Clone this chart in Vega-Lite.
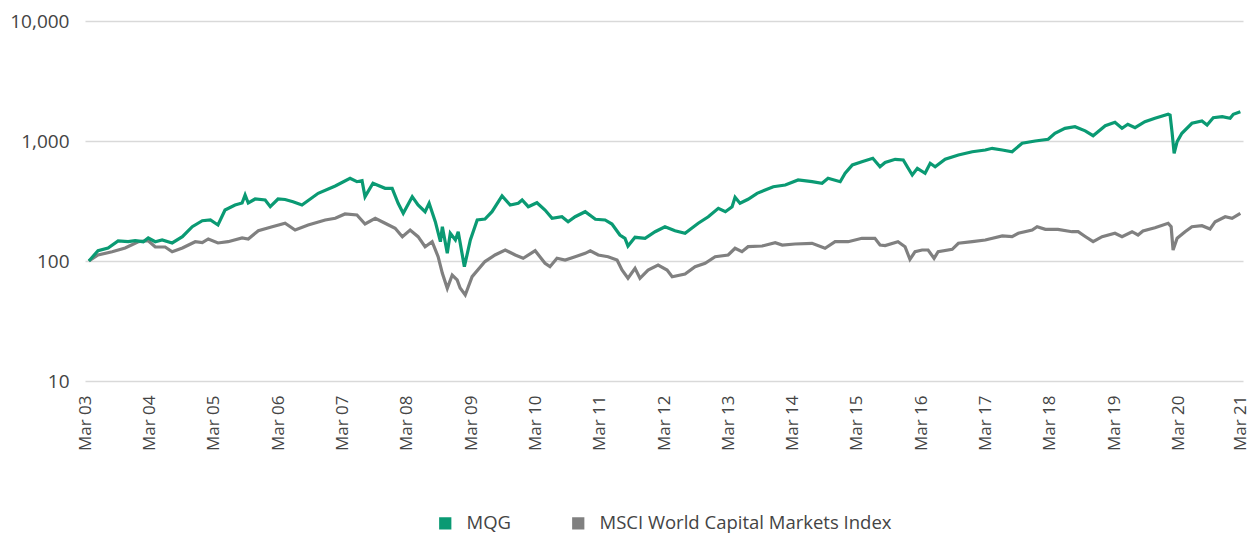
{
  "$schema": "https://vega.github.io/schema/vega-lite/v6.json",
  "width": 1158,
  "height": 360,
  "autosize": {"type": "none"},
  "padding": {"left": 85, "top": 21, "right": 7, "bottom": 154},
  "background": "white",
  "config": {
    "view": {"stroke": null},
    "font": "Open Sans"
  },
  "datasets": {
    "mqg": [
      {"date":"2003-03-23","value":100},{"date":"2003-05-14","value":121.8},{"date":"2003-07-10","value":128.3},{"date":"2003-09-05","value":146.8},{"date":"2003-11-01","value":144.8},{"date":"2003-12-11","value":147.6},{"date":"2004-01-26","value":144.8},{"date":"2004-02-23","value":155.5},{"date":"2004-04-03","value":144.8},{"date":"2004-05-12","value":149.6},{"date":"2004-07-08","value":141.3},{"date":"2004-09-04","value":159.4},{"date":"2004-10-30","value":193.1},{"date":"2004-12-26","value":216.7},{"date":"2005-02-10","value":219.7},{"date":"2005-03-25","value":199.5},{"date":"2005-05-04","value":266.1},{"date":"2005-06-30","value":292.9},{"date":"2005-08-09","value":304.3},{"date":"2005-08-26","value":354.8},{"date":"2005-09-13","value":304.3},{"date":"2005-10-22","value":328.6},{"date":"2005-12-18","value":322.4},{"date":"2006-01-16","value":283.5},{"date":"2006-03-01","value":328.6},{"date":"2006-04-10","value":325.5},{"date":"2006-05-25","value":312.0},{"date":"2006-07-15","value":292.9},{"date":"2006-10-15","value":366.6},{"date":"2007-01-20","value":421.7},{"date":"2007-04-14","value":489.0},{"date":"2007-05-23","value":458.0},{"date":"2007-06-21","value":467.0},{"date":"2007-07-08","value":343.5},{"date":"2007-08-22","value":444.1},{"date":"2007-10-30","value":403.5},{"date":"2007-12-09","value":403.5},{"date":"2008-01-12","value":302.6},{"date":"2008-02-10","value":249.8},{"date":"2008-04-01","value":343.5},{"date":"2008-05-04","value":292.9},{"date":"2008-06-13","value":257.5},{"date":"2008-07-06","value":302.6},{"date":"2008-08-10","value":212.6},{"date":"2008-09-08","value":144.8},{"date":"2008-09-19","value":193.1},{"date":"2008-10-17","value":115.9},{"date":"2008-11-03","value":170.2},{"date":"2008-12-02","value":149.6},{"date":"2008-12-18","value":175.4},{"date":"2009-01-22","value":89.7},{"date":"2009-02-25","value":149.6},{"date":"2009-04-05","value":219.7},{"date":"2009-05-19","value":223.9},{"date":"2009-06-28","value":257.5},{"date":"2009-08-24","value":348.1},{"date":"2009-10-09","value":292.9},{"date":"2009-11-24","value":302.6},{"date":"2009-12-16","value":322.4},{"date":"2010-01-20","value":283.5},{"date":"2010-03-10","value":306.0},{"date":"2010-04-25","value":266.1},{"date":"2010-06-04","value":226.9},{"date":"2010-07-30","value":233.9},{"date":"2010-09-03","value":212.6},{"date":"2010-10-13","value":233.9},{"date":"2010-12-09","value":257.5},{"date":"2011-02-05","value":222.6},{"date":"2011-04-01","value":219.7},{"date":"2011-05-10","value":203.4},{"date":"2011-06-24","value":164.7},{"date":"2011-07-23","value":154.6},{"date":"2011-08-09","value":133.4},{"date":"2011-09-18","value":157.6},{"date":"2011-11-14","value":154.6},{"date":"2012-01-10","value":175.4},{"date":"2012-03-06","value":193.1},{"date":"2012-05-02","value":178.9},{"date":"2012-06-28","value":170.2},{"date":"2012-09-11","value":206.2},{"date":"2012-11-07","value":233.9},{"date":"2013-01-03","value":274.9},{"date":"2013-02-12","value":257.5},{"date":"2013-03-22","value":283.5},{"date":"2013-04-08","value":339.5},{"date":"2013-05-06","value":302.6},{"date":"2013-06-21","value":326.8},{"date":"2013-08-11","value":366.6},{"date":"2013-09-26","value":390.6},{"date":"2013-11-11","value":416.1},{"date":"2014-01-18","value":429.9},{"date":"2014-04-01","value":473.2},{"date":"2014-06-19","value":458.0},{"date":"2014-08-15","value":444.1},{"date":"2014-09-18","value":489.0},{"date":"2014-11-26","value":458.0},{"date":"2014-12-24","value":538.0},{"date":"2015-02-03","value":631.0},{"date":"2015-03-29","value":672.2},{"date":"2015-05-30","value":717.5},{"date":"2015-07-10","value":610.7},{"date":"2015-08-08","value":662.0},{"date":"2015-10-04","value":704.0},{"date":"2015-11-19","value":694.6},{"date":"2015-12-17","value":592.3},{"date":"2016-01-09","value":520.9},{"date":"2016-02-07","value":592.3},{"date":"2016-03-22","value":538.0},{"date":"2016-04-20","value":652.0},{"date":"2016-05-18","value":610.7},{"date":"2016-07-14","value":704.0},{"date":"2016-09-27","value":764.3},{"date":"2016-12-15","value":814.2},{"date":"2017-02-27","value":841.4},{"date":"2017-04-07","value":869.3},{"date":"2017-06-03","value":841.4},{"date":"2017-07-29","value":814.2},{"date":"2017-09-24","value":956.9},{"date":"2017-12-07","value":1000},{"date":"2018-02-19","value":1033},{"date":"2018-03-29","value":1159},{"date":"2018-05-25","value":1276},{"date":"2018-07-21","value":1316},{"date":"2018-09-17","value":1216},{"date":"2018-11-01","value":1107},{"date":"2019-01-09","value":1341},{"date":"2019-03-05","value":1431},{"date":"2019-04-14","value":1276},{"date":"2019-05-17","value":1378},{"date":"2019-06-27","value":1291},{"date":"2019-08-22","value":1448},{"date":"2019-10-18","value":1546},{"date":"2020-01-01","value":1669},{"date":"2020-01-12","value":1641},{"date":"2020-01-23","value":1191},{"date":"2020-02-04","value":790},{"date":"2020-02-21","value":987},{"date":"2020-03-19","value":1159},{"date":"2020-05-15","value":1404},{"date":"2020-07-11","value":1468},{"date":"2020-08-09","value":1359},{"date":"2020-09-13","value":1564},{"date":"2020-11-03","value":1594},{"date":"2020-12-18","value":1546},{"date":"2021-01-05","value":1669},{"date":"2021-02-14","value":1754}
    ],
    "msci": [
      {"date":"2003-03-23","value":100},{"date":"2003-05-14","value":112.2},{"date":"2003-08-02","value":119.5},{"date":"2003-10-15","value":128.3},{"date":"2003-12-28","value":144.8},{"date":"2004-02-23","value":147.6},{"date":"2004-04-03","value":130.8},{"date":"2004-05-29","value":130.8},{"date":"2004-07-08","value":119.5},{"date":"2004-09-04","value":128.3},{"date":"2004-11-16","value":144.8},{"date":"2004-12-26","value":142.1},{"date":"2005-01-29","value":152.5},{"date":"2005-03-25","value":141.3},{"date":"2005-05-21","value":144.8},{"date":"2005-08-09","value":155.5},{"date":"2005-09-13","value":152.5},{"date":"2005-11-09","value":178.9},{"date":"2006-01-27","value":193.1},{"date":"2006-04-10","value":206.2},{"date":"2006-06-06","value":181.3},{"date":"2006-08-19","value":199.5},{"date":"2006-11-24","value":219.7},{"date":"2007-01-20","value":226.9},{"date":"2007-03-16","value":246.5},{"date":"2007-05-23","value":241.8},{"date":"2007-07-08","value":203.4},{"date":"2007-09-04","value":226.9},{"date":"2007-10-30","value":206.2},{"date":"2007-12-26","value":187.3},{"date":"2008-02-05","value":159.4},{"date":"2008-03-20","value":181.3},{"date":"2008-05-04","value":159.4},{"date":"2008-06-13","value":131.6},{"date":"2008-07-23","value":144.8},{"date":"2008-08-26","value":108.6},{"date":"2008-09-19","value":79.0},{"date":"2008-10-17","value":59.2},{"date":"2008-11-14","value":76.4},{"date":"2008-12-12","value":69.5},{"date":"2008-12-29","value":59.6},{"date":"2009-01-27","value":52.1},{"date":"2009-03-07","value":74.0},{"date":"2009-05-19","value":98.9},{"date":"2009-07-15","value":112.2},{"date":"2009-09-11","value":123.5},{"date":"2009-11-07","value":112.2},{"date":"2009-12-22","value":105.3},{"date":"2010-02-28","value":121.8},{"date":"2010-04-25","value":95.7},{"date":"2010-05-23","value":89.7},{"date":"2010-07-02","value":105.3},{"date":"2010-08-17","value":101.9},{"date":"2010-10-13","value":108.6},{"date":"2010-12-09","value":115.9},{"date":"2011-01-07","value":121.8},{"date":"2011-02-21","value":112.2},{"date":"2011-04-18","value":108.6},{"date":"2011-06-08","value":101.9},{"date":"2011-07-06","value":84.1},{"date":"2011-08-09","value":71.8},{"date":"2011-09-18","value":86.9},{"date":"2011-10-16","value":71.8},{"date":"2011-12-01","value":84.1},{"date":"2012-01-27","value":92.6},{"date":"2012-03-18","value":84.1},{"date":"2012-04-16","value":74.0},{"date":"2012-06-28","value":78.0},{"date":"2012-08-24","value":89.7},{"date":"2012-10-20","value":95.7},{"date":"2012-12-16","value":108.6},{"date":"2013-02-28","value":112.2},{"date":"2013-04-08","value":127.6},{"date":"2013-05-17","value":119.5},{"date":"2013-06-21","value":131.6},{"date":"2013-09-09","value":133.4},{"date":"2013-11-22","value":142.1},{"date":"2014-01-01","value":135.9},{"date":"2014-03-14","value":138.6},{"date":"2014-06-19","value":140.5},{"date":"2014-09-01","value":127.6},{"date":"2014-10-28","value":144.8},{"date":"2015-01-10","value":144.8},{"date":"2015-03-29","value":154.6},{"date":"2015-06-11","value":154.6},{"date":"2015-07-10","value":135.9},{"date":"2015-08-08","value":134.6},{"date":"2015-10-20","value":144.8},{"date":"2015-11-29","value":131.6},{"date":"2015-12-27","value":103.3},{"date":"2016-01-25","value":119.5},{"date":"2016-03-05","value":123.5},{"date":"2016-04-08","value":123.5},{"date":"2016-05-12","value":105.3},{"date":"2016-06-04","value":119.5},{"date":"2016-08-23","value":125.2},{"date":"2016-09-27","value":140.5},{"date":"2016-12-15","value":144.8},{"date":"2017-02-27","value":149.6},{"date":"2017-06-03","value":161.6},{"date":"2017-07-29","value":159.4},{"date":"2017-09-02","value":170.2},{"date":"2017-11-20","value":181.3},{"date":"2017-12-18","value":193.1},{"date":"2018-02-03","value":183.7},{"date":"2018-04-15","value":183.7},{"date":"2018-07-04","value":175.4},{"date":"2018-08-08","value":175.4},{"date":"2018-09-17","value":160.1},{"date":"2018-11-01","value":144.8},{"date":"2018-12-22","value":159.4},{"date":"2019-03-05","value":170.2},{"date":"2019-04-14","value":159.4},{"date":"2019-06-10","value":175.4},{"date":"2019-07-14","value":164.7},{"date":"2019-08-11","value":177.8},{"date":"2019-10-18","value":189.5},{"date":"2020-01-01","value":206.2},{"date":"2020-01-18","value":193.1},{"date":"2020-01-29","value":123.5},{"date":"2020-02-21","value":154.6},{"date":"2020-04-06","value":175.4},{"date":"2020-05-15","value":193.1},{"date":"2020-07-11","value":196.9},{"date":"2020-08-26","value":184.8},{"date":"2020-09-24","value":212.6},{"date":"2020-11-20","value":233.9},{"date":"2020-12-29","value":226.9},{"date":"2021-02-14","value":249.8}
    ]
  },
  "encoding": {
    "x": {
      "field": "date",
      "type": "temporal",
      "scale": {"domain": ["2003-03-01", "2021-03-01"]},
      "axis": {
        "title": null,
        "values": ["2003-03-01","2004-03-01","2005-03-01","2006-03-01","2007-03-01","2008-03-01","2009-03-01","2010-03-01","2011-03-01","2012-03-01","2013-03-01","2014-03-01","2015-03-01","2016-03-01","2017-03-01","2018-03-01","2019-03-01","2020-03-01","2021-03-01"],
        "format": "%b %y",
        "labelAngle": -90,
        "labelFontSize": 17,
        "labelColor": "#444444",
        "labelPadding": 14,
        "labelOffset": {"condition": {"test": "year(datum.value) >= 2021", "value": -3}, "value": 0},
        "labelOverlap": false,
        "labelFlush": false,
        "labelBound": false,
        "ticks": false,
        "domain": false,
        "grid": false
      }
    },
    "y": {
      "field": "value",
      "type": "quantitative",
      "scale": {"type": "log", "domain": [10, 10000], "nice": false},
      "axis": {
        "title": null,
        "values": [10, 100, 1000, 10000],
        "format": ",",
        "labelFontSize": 19,
        "labelColor": "#444444",
        "labelPadding": 16,
        "ticks": false,
        "domain": false,
        "grid": true,
        "gridColor": "#d9d9d9",
        "gridWidth": 1.5
      }
    }
  },
  "layer": [
    {
      "data": {"name": "msci"},
      "mark": {"type": "line", "strokeWidth": 3.2, "interpolate": "linear"},
      "encoding": {
        "color": {
          "datum": "MSCI World Capital Markets Index",
          "type": "nominal",
          "scale": {"domain": ["MQG", "MSCI World Capital Markets Index"], "range": ["#0a9a73", "#808080"]},
          "legend": {
            "title": null,
            "orient": "none",
            "legendX": 351,
            "legendY": 493,
            "direction": "horizontal",
            "padding": 0,
            "symbolType": "square",
            "symbolSize": 150,
            "symbolStrokeWidth": 0,
            "labelFontSize": 18.5,
            "labelColor": "#444444",
            "labelOffset": 12,
            "labelLimit": 0,
            "columnPadding": 58,
            "encode": {"symbols": {"update": {"fill": {"scale": "color", "field": "value"}, "strokeWidth": {"value": 0}}}}
          }
        }
      }
    },
    {
      "data": {"name": "mqg"},
      "mark": {"type": "line", "strokeWidth": 3.2, "interpolate": "linear"},
      "encoding": {"color": {"datum": "MQG", "type": "nominal"}}
    }
  ]
}
